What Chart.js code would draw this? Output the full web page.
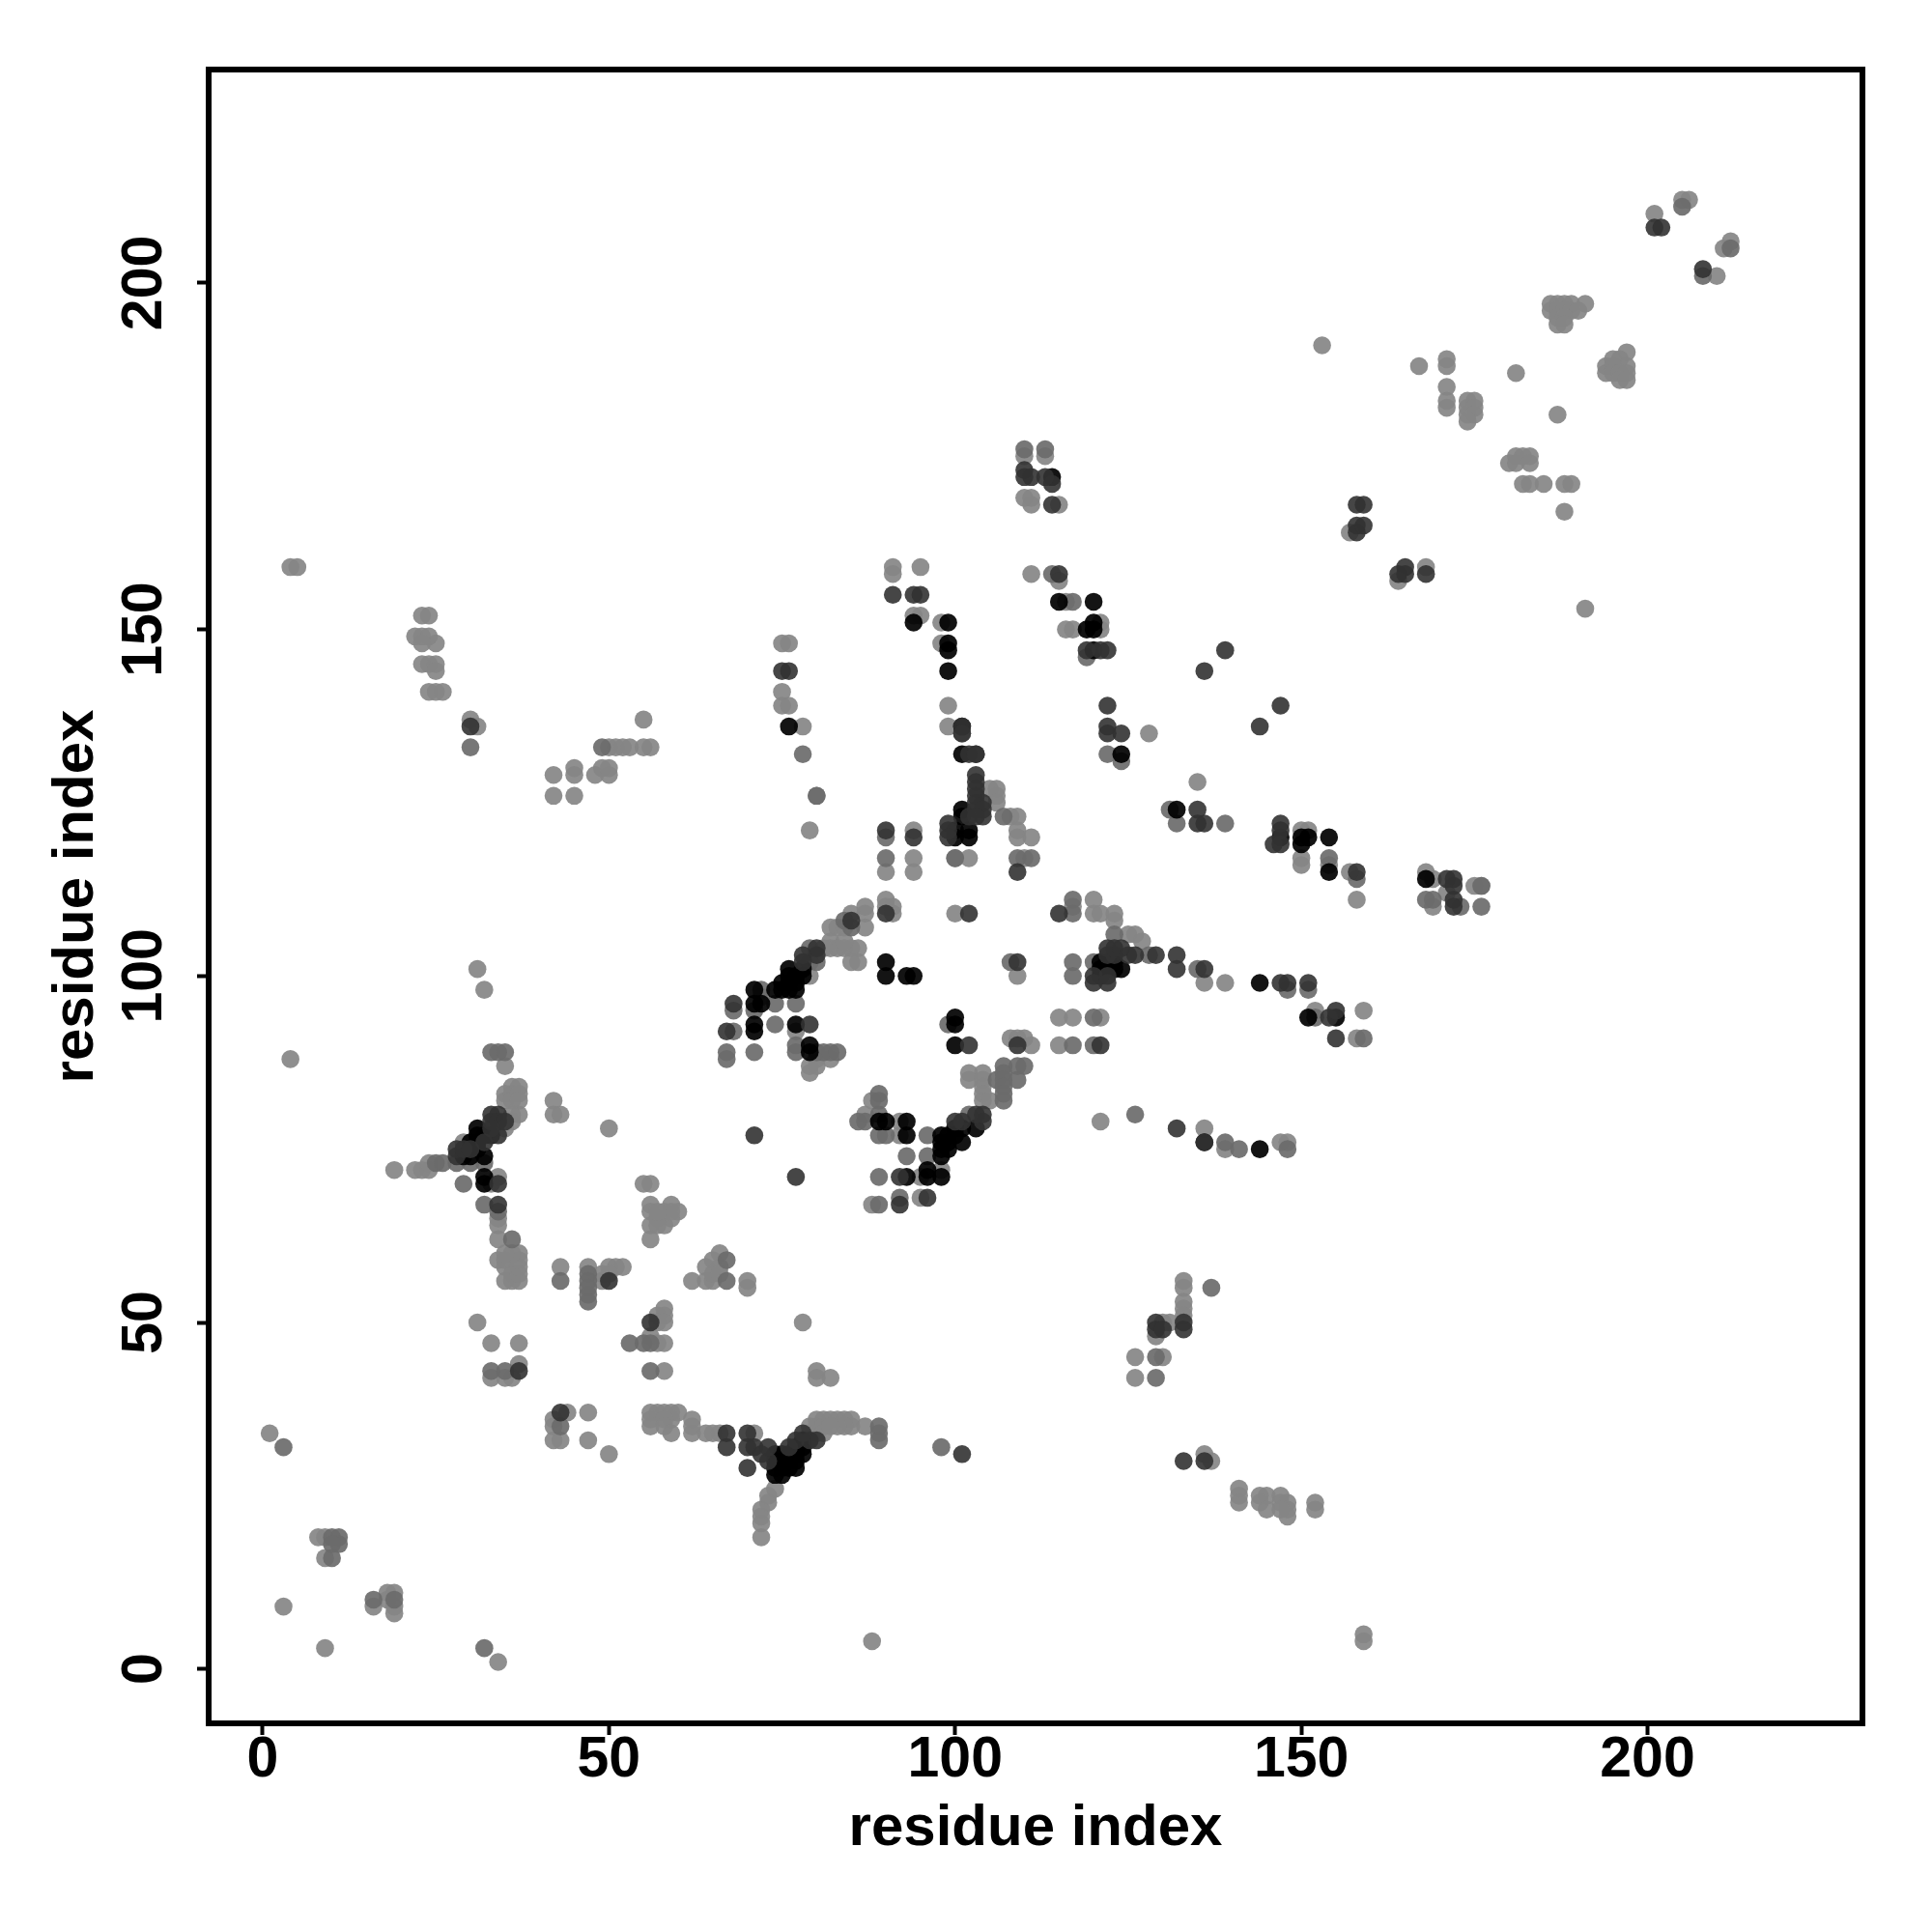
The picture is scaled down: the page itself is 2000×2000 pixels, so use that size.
<!DOCTYPE html>
<html>
<head>
<meta charset="utf-8">
<title>residue contacts</title>
<script src="https://cdn.jsdelivr.net/npm/chart.js@4"></script>
<style>
  html, body { margin: 0; padding: 0; background: #fff; }
  canvas { display: block; }
</style>
</head>
<body>
<canvas id="grafico" width="2000" height="2000"></canvas>
<script>
// tick values, same on both axes
const tickValues = [0, 50, 100, 150, 200];
const axisTitle = 'residue index';

// contacts as [residue, residue], split by how dark they print
const darkContacts = [
  [37,43],[43,37],[28,75],[28,74],[29,75],[30,75],[33,80],[33,79],[34,80],[34,79],[34,77],[35,79],[33,78],[32,76],
  [34,70],[34,67],[50,56],[56,50],[67,34],[70,34],[70,32],[70,29],[71,32],[67,32],
  [68,96],[67,92],[79,93],[80,104],[80,103],[78,103],[78,102],[90,109],[85,108],
  [90,121],[94,120],[99,122],[99,121],[99,120],[102,123],[103,126],[103,125],[103,124],[104,125],[104,123],[103,129],[103,128],[103,127],
  [104,124],[103,123],[109,115],[102,109],[102,90],[109,90],[109,102],[104,80],[104,79],[103,80],[101,79],[100,79],[92,71],[92,67],[96,68],
  [71,77],[77,71],[115,158],[119,147],[121,147],[122,147],[139,147],[136,144],[122,139],[122,136],[122,135],[124,135],
  [147,139],[144,136],[135,124],[136,122],[135,122],[147,122],[147,121],[146,119],[147,119],[158,115],[102,132],[103,132],[101,136],[101,135],
  [158,164],[158,168],[159,168],[158,165],[159,165],[164,158],[165,159],[165,158],[168,158],[171,114],[172,114],[172,113],[172,111],[172,110],
  [120,100],[120,99],[122,100],[122,99],[123,103],[122,103],[122,104],[123,104],[124,104],[125,103],[126,103],[129,103],[132,103],[132,101],[136,101],[147,99],[148,99],[151,99],
  [155,95],[154,94],[155,91],[115,109],[121,90],[132,78],[136,76],[133,50],[133,49],[129,50],[129,49],[130,49],
  [133,30],[136,30],[201,208],[202,208],[208,202],[75,144],[76,144],[91,155],[94,155],[95,155],[103,132],[110,173],[110,172],[111,172],[113,172],[114,171],[114,168],
  [30,136],[72,31],[73,30],[73,32],[79,33],[80,33],[76,32],[77,33],[78,34],[101,31]
];
const blackContacts = [
  [30,74],[29,74],[31,78],[31,77],[31,76],[31,75],[30,76],[32,74],[32,77],[33,77],[32,71],[32,70],
  [74,28],[74,29],[74,30],[74,31],[75,28],[75,29],[75,30],[75,31],[76,29],[76,30],[76,31],[77,29],[77,30],[77,31],[77,32],[78,31],[78,32],[78,33],
  [76,101],[77,100],[76,100],[75,99],[76,99],[77,99],[74,98],[75,98],[76,98],[77,98],[78,100],[78,101],[71,98],[71,96],[72,96],[71,93],[71,92],[77,93],[79,90],[79,89],
  [90,102],[90,100],[93,100],[94,100],[100,121],[100,120],[101,124],[101,123],[102,121],[100,94],[100,93],[100,90],
  [103,78],[101,78],[101,76],[100,78],[100,77],[99,77],[99,76],[98,77],[98,76],[98,75],[98,74],[99,75],[96,72],[96,71],[98,71],[93,71],
  [89,79],[90,79],[93,79],[93,77],[115,154],[120,154],[119,150],[120,151],[120,150],[120,147],[124,132],[132,124],[150,119],[151,120],[150,120],[147,120],[154,120],[154,115],
  [168,114],[121,102],[121,101],[121,100],[123,102],[124,101],[123,101],[122,101],[122,102],[144,99],[144,75],[151,94],[155,94],[76,136],[94,151],[99,151],[99,148],[99,147],[99,144],[101,136],[101,132],[114,172],[102,120],[136,76]
];
const midContacts = [
  [3,32],[32,3],[10,19],[11,19],[11,18],[10,18],[10,16],[16,10],[19,10],[33,43],[35,43],[43,35],[25,73],[26,73],[28,73],[30,73],[32,73],
  [33,89],[34,89],[35,89],[29,70],[32,67],[34,66],[36,62],[43,56],[47,57],[47,56],[47,55],[47,54],[47,53],[53,47],[55,47],[56,43],[67,59],[67,56],[56,47],
  [68,95],[68,92],[74,96],[77,96],[74,93],[67,89],[67,88],[71,89],[77,90],[77,89],[80,89],[81,89],[82,89],[83,89],[79,104],[80,102],[72,98],[71,95],
  [84,108],[85,107],[90,120],[90,117],[100,117],[80,126],[107,123],[109,117],[111,117],[106,85],[107,87],[107,86],[107,85],[107,84],[107,83],[107,82],[109,87],[109,85],[110,87],
  [102,80],[96,77],[96,74],[93,74],[89,71],[92,68],[89,67],[89,83],[89,82],[86,79],[87,79],[89,80],[89,77],[90,77],[99,93],
  [114,158],[117,154],[119,146],[122,132],[124,131],[131,124],[132,122],[139,122],[154,117],[158,114],[168,111],[169,111],[108,102],[117,102],[117,100],[120,102],
  [128,103],[135,101],[148,98],[151,98],[117,111],[117,109],[123,106],[120,94],[117,90],[120,90],[152,94],[159,91],[126,80],[139,76],[141,75],[148,75],
  [137,55],[129,45],[129,42],[78,132],[110,176],[113,176],[101,135],[30,133],[49,133],[98,32],[89,35],[89,34],[89,33],[173,110],[176,110],[176,113],[208,201],[205,211],[212,205]
];
const lightContacts = [
  [1,34],[3,9],[9,3],[34,1],[8,19],[9,19],[9,16],[16,9],[18,11],[19,11],[18,10],[19,9],[19,8],[31,50],[33,47],[37,47],[33,42],[35,42],[36,42],[37,44],
  [42,33],[43,33],[42,35],[42,36],[44,37],[47,37],[47,33],[50,31],[19,72],[22,72],[23,72],[24,72],[24,73],[29,76],[35,83],[35,82],[36,84],[36,83],[36,82],
  [37,84],[37,83],[37,82],[37,80],[36,80],[36,79],[35,78],[35,87],[34,71],[33,70],[34,65],[34,64],[34,62],[34,59],[35,59],[35,58],[35,56],[36,56],[37,56],
  [36,57],[37,57],[37,58],[37,59],[37,60],[36,60],[35,60],[42,82],[42,80],[43,80],[50,78],[43,58],[47,58],[50,58],[51,58],[52,58],[50,57],[49,56],[49,57],
  [55,70],[56,70],[56,67],[56,66],[59,67],[60,66],[59,65],[58,66],[57,65],[58,64],[57,64],[56,64],[56,62],[59,66],[57,66],[62,56],[64,56],[65,56],[64,58],
  [65,59],[66,60],[65,57],[66,58],[66,57],[70,56],[70,55],[58,52],[57,51],[58,51],[57,50],[58,50],[56,48],[57,47],[58,47],[58,43],[78,50],[80,43],[80,42],[82,42],
  [56,37],[57,37],[58,37],[59,37],[60,37],[56,36],[59,36],[58,36],[56,35],[58,35],[59,34],[62,36],[62,34],[62,35],[64,34],[65,34],[66,34],[71,34],
  [72,19],[72,21],[72,22],[72,23],[73,24],[73,25],[74,26],[79,35],[79,34],[80,36],[80,35],[80,34],[81,36],[81,35],[81,34],[82,36],[83,36],[84,36],[85,36],[85,35],[84,35],[83,35],[82,35],[87,35],
  [90,115],[94,121],[94,117],[94,115],[79,121],[100,117],[102,117],[105,127],[106,127],[106,126],[106,125],[108,123],[109,123],[109,121],[109,120],[111,120],[110,117],
  [87,110],[87,109],[87,107],[85,109],[82,107],[83,107],[84,107],[82,105],[83,104],[84,104],[85,104],[86,104],[85,102],[86,102],[82,104],[84,105],[81,104],[90,111],[90,110],[91,110],[91,109],
  [79,102],[79,100],[72,97],[77,92],[82,88],[80,88],[79,87],[79,86],[80,87],[100,109],[109,100],[109,91],[108,91],[110,91],[111,90],[102,86],[102,85],[104,86],[104,85],[104,84],[104,83],[104,82],[105,82],
  [95,71],[98,72],[95,68],[88,67],[88,82],[87,80],[92,79],[92,77],[111,158],[115,157],[116,154],[116,150],[117,150],[121,151],[121,150],[128,135],[135,128],
  [150,121],[151,121],[150,117],[150,116],[154,116],[157,115],[158,111],[168,115],[169,114],[169,110],[117,110],[120,111],[120,109],[121,109],[123,109],[123,108],[125,106],[126,106],[127,105],
  [136,99],[139,99],[115,94],[117,94],[121,94],[115,90],[152,95],[159,95],[158,91],[121,79],[136,78],[139,75],[147,76],[148,76],[133,56],[133,55],[133,53],[133,52],[133,51],[130,50],[131,50],[129,48],[126,45],[130,45],[126,42],
  [136,31],[137,30],[141,26],[141,25],[141,24],[144,25],[145,25],[144,24],[145,23],[147,25],[147,24],[148,24],[148,23],[148,22],[152,24],[152,23],[147,23],[88,4],[159,5],[159,4],[4,88],[31,101],[32,98],
  [4,159],[5,159],[23,152],[24,152],[22,149],[23,149],[24,149],[25,148],[23,148],[23,145],[24,145],[25,145],[25,144],[24,141],[25,141],[26,141],[30,137],[31,136],
  [42,129],[42,126],[45,130],[45,129],[45,126],[48,129],[50,133],[49,130],[50,129],[50,130],[51,133],[52,133],[53,133],[55,137],[55,133],[56,133],
  [75,148],[76,148],[75,141],[75,139],[76,139],[78,136],[80,126],[91,159],[91,158],[95,159],[95,152],[94,152],[98,151],[98,148],[99,139],[99,136],
  [110,175],[113,175],[110,169],[111,169],[111,168],[115,168],[153,191],[167,188],[171,189],[171,188],[171,185],[171,183],[171,182],[174,183],[175,183],[174,182],[175,182],[174,181],[175,181],[174,180],
  [181,187],[187,181],[180,174],[181,175],[182,175],[183,175],[181,174],[183,174],[182,171],[183,171],[185,171],[188,171],[189,171],[188,167],[191,153],[157,164],[164,157],[168,159],
  [186,197],[187,197],[188,197],[189,197],[191,197],[186,196],[187,196],[188,196],[189,196],[190,196],[187,195],[188,195],[187,194],[188,194],
  [194,188],[194,187],[195,189],[197,190],[196,189],[197,188],[195,188],[195,187],[196,187],[197,187],[196,186],[197,186],
  [201,210],[205,212],[206,212],[210,201],[211,205],[212,206],[175,113],[171,112],[176,113]
];

function toPoints(list) {
  return list.map(p => ({ x: p[0], y: p[1] }));
}

function serie(label, list, color) {
  return { label: label, data: toPoints(list), backgroundColor: color, pointRadius: 9.3, pointBorderWidth: 0, pointHoverRadius: 9.3 };
}

// closes the box on the top and right sides
const boxPlugin = {
  id: 'box',
  afterDraw(chart) {
    const a = chart.chartArea, c = chart.ctx;
    c.save();
    c.strokeStyle = '#000';
    c.lineWidth = 6;
    c.lineCap = 'square';
    c.strokeRect(a.left, a.top, a.right - a.left, a.bottom - a.top);
    c.restore();
  }
};

const fonte = { family: '"Liberation Sans"', size: 59, weight: 'bold' };
const setTicks = axis => { axis.ticks = tickValues.map(v => ({ value: v })); };

new Chart(document.getElementById('grafico').getContext('2d'), {
  type: 'scatter',
  plugins: [boxPlugin],
  data: {
    datasets: [
      serie('dark', darkContacts, 'rgba(50,50,50,0.9)'),
      serie('black', blackContacts, 'rgba(0,0,0,0.92)'),
      serie('mid', midContacts, 'rgba(107,107,107,0.92)'),
      serie('light', lightContacts, 'rgba(134,134,134,0.92)')
    ]
  },
  options: {
    responsive: false,
    animation: false,
    layout: { padding: { top: 72, right: 72, left: 0, bottom: 0 } },
    plugins: { legend: { display: false }, tooltip: { enabled: false } },
    scales: {
      x: {
        min: -7.81, max: 231.04,
        afterBuildTicks: setTicks,
        afterFit: s => { s.height = 216; },
        border: { display: false },
        grid: { drawOnChartArea: false, drawTicks: true, tickLength: 12, tickWidth: 4, tickColor: '#000' },
        ticks: { color: '#000', font: fonte, padding: -9, autoSkip: false, maxRotation: 0 },
        title: { display: true, text: axisTitle, color: '#000', font: { family: '"Liberation Sans"', size: 60, weight: 'bold' }, padding: { top: 0, bottom: 71 } }
      },
      y: {
        min: -7.85, max: 230.8,
        afterBuildTicks: setTicks,
        afterFit: s => { s.width = 216; },
        border: { display: false },
        grid: { drawOnChartArea: false, drawTicks: true, tickLength: 12, tickWidth: 4, tickColor: '#000' },
        ticks: { color: '#000', font: fonte, padding: 4, autoSkip: false, minRotation: 90, maxRotation: 90, crossAlign: 'center' },
        title: { display: true, text: axisTitle, color: '#000', font: { family: '"Liberation Sans"', size: 60, weight: 'bold' }, padding: { top: 43, bottom: 0 } }
      }
    }
  }
});
</script>
</body>
</html>
